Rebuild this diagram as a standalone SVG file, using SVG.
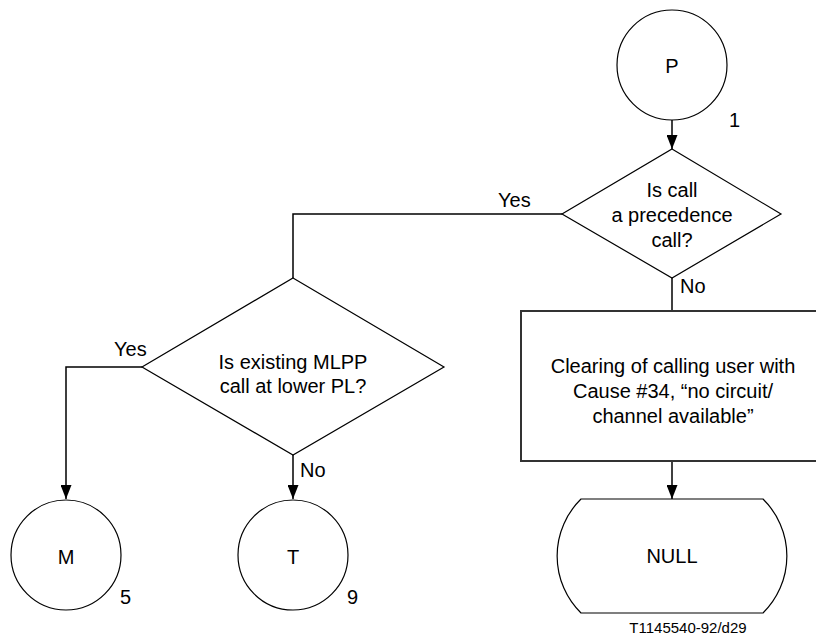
<svg xmlns="http://www.w3.org/2000/svg" width="816" height="642" viewBox="0 0 816 642">
<style>
  .shape { fill: #ffffff; stroke: #000000; stroke-width: 1.2; }
  .box { fill: #ffffff; stroke: #333333; stroke-width: 2; }
  .conn { fill: none; stroke: #000000; stroke-width: 1.5; }
  text { font-family: "Liberation Sans", Arial, sans-serif; font-size: 20px; fill: #000000; }
  .c { text-anchor: middle; }
  .small { font-size: 15px; }
</style>
<defs>
  <marker id="arrow" markerUnits="userSpaceOnUse" markerWidth="14" markerHeight="11" refX="14" refY="5.5" orient="auto">
    <path d="M0,0 L14,5.5 L0,11 Z" fill="#000000"/>
  </marker>
</defs>
<rect x="0" y="0" width="816" height="642" fill="#ffffff"/>

<g id="connectors">
  <line class="conn" x1="672" y1="120" x2="672" y2="149" marker-end="url(#arrow)"/>
  <polyline class="conn" points="562,214 293,214 293,278"/>
  <line class="conn" x1="672" y1="278" x2="672" y2="311"/>
  <polyline class="conn" points="142,367 66,367 66,499" marker-end="url(#arrow)"/>
  <line class="conn" x1="293" y1="455" x2="293" y2="499" marker-end="url(#arrow)"/>
  <line class="conn" x1="672" y1="461" x2="672" y2="499" marker-end="url(#arrow)"/>
  <text x="498" y="207">Yes</text>
  <text x="680" y="293">No</text>
  <text x="114" y="356">Yes</text>
  <text x="300" y="477">No</text>
</g>

<g id="node-P">
  <circle class="shape" cx="672" cy="65" r="55"/>
  <text class="c" x="672" y="73">P</text>
  <text x="729" y="127">1</text>
</g>

<g id="node-decision1">
  <polygon class="shape" points="672,149 781,214 672,278 562,214"/>
  <text class="c" x="672" y="197">Is call</text>
  <text class="c" x="672" y="222">a precedence</text>
  <text class="c" x="672" y="247">call?</text>
</g>

<g id="node-decision2">
  <polygon class="shape" points="293,278 444,367 293,455 142,367"/>
  <text class="c" x="293" y="369">Is existing MLPP</text>
  <text class="c" x="293" y="393">call at lower PL?</text>
</g>

<g id="node-clearing">
  <rect class="box" x="521" y="311" width="304" height="150"/>
  <text class="c" x="673" y="373">Clearing of calling user with</text>
  <text class="c" x="673" y="398">Cause #34, “no circuit/</text>
  <text class="c" x="673" y="423">channel available”</text>
</g>

<g id="node-M">
  <circle class="shape" cx="66" cy="555" r="55"/>
  <text class="c" x="66" y="564">M</text>
  <text x="120" y="604">5</text>
</g>

<g id="node-T">
  <circle class="shape" cx="293" cy="555" r="55"/>
  <text class="c" x="293" y="564">T</text>
  <text x="347" y="604">9</text>
</g>

<g id="node-NULL">
  <path class="shape" d="M581,499 L763,499 A80,80 0 0 1 763,613 L581,613 A80,80 0 0 1 581,499 Z"/>
  <text class="c" x="672" y="563">NULL</text>
</g>

<text class="c small" x="688" y="633">T1145540-92/d29</text>
</svg>
